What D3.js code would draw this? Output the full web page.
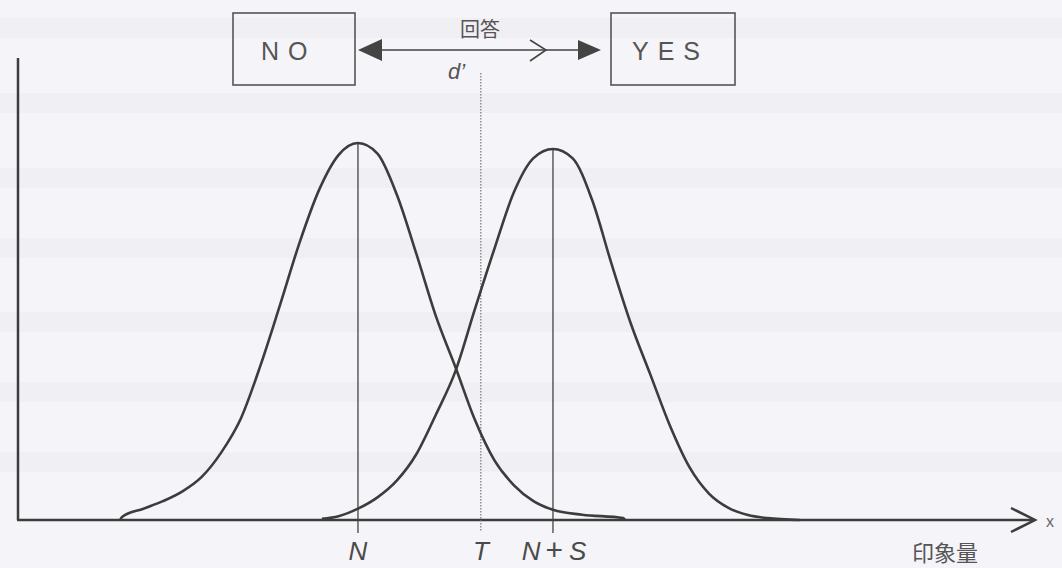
<!DOCTYPE html>
<html>
<head>
<meta charset="utf-8">
<script src="https://cdn.jsdelivr.net/npm/d3@7"></script>
<style>
  body { margin: 0; background: #f5f4f8; }
  svg { display: block; }
  .lbl { font-family: "Liberation Sans", Arial, sans-serif; fill: #4a4a4a; }
</style>
</head>
<body>
<div id="chart-area"></div>
<script>
// Noise distribution N (x in d' units, N = 0)
const noiseX = [-2.44, -2.42, -2.2, -2.0, -1.8, -1.6, -1.4, -1.2, -1.0, -0.8, -0.6, -0.4, -0.2, 0.0,
  0.2, 0.4, 0.6, 0.8, 1.0, 1.2, 1.4, 1.6, 1.8, 2.0, 2.3, 2.72, 2.74];
const noiseY = [0.000, 0.008, 0.030, 0.050, 0.076, 0.115, 0.180, 0.270, 0.410, 0.570, 0.735, 0.875, 0.968, 1.000,
  0.972, 0.862, 0.705, 0.540, 0.405, 0.265, 0.158, 0.092, 0.050, 0.027, 0.014, 0.005, 0.000];

// Signal + noise distribution N+S
const signalX = [-0.37, -0.2, 0.0, 0.2, 0.4, 0.6, 0.8, 1.0, 1.2, 1.4, 1.6, 1.8, 2.0,
  2.2, 2.4, 2.6, 2.8, 3.0, 3.2, 3.4, 3.6, 3.8, 4.0, 4.2, 4.53];
const signalY = [0.003, 0.010, 0.030, 0.060, 0.105, 0.175, 0.280, 0.395, 0.560, 0.720, 0.870, 0.960, 0.984,
  0.960, 0.850, 0.680, 0.520, 0.385, 0.250, 0.140, 0.070, 0.032, 0.013, 0.005, 0.000];

// x axis markers
const markerValues = [0, 1.26, 2];
const markerLabels = ["N", "T", "N+S"];

const width = 1062, height = 568;

const svg = d3.select("#chart-area")
  .append("svg")
    .attr("width", width)
    .attr("height", height);

// faint print-through bands of the scanned page
const bands = [18, 93, 168, 238, 312, 382, 452];
svg.selectAll(".band")
  .data(bands)
  .enter().append("rect")
    .attr("class", "band")
    .attr("x", 0)
    .attr("y", d => d)
    .attr("width", width)
    .attr("height", 20)
    .attr("fill", "#f0eff3");

// Scales
const xScale = d3.scaleLinear()
  .domain([-3.487, 6.944])
  .range([18, 1035]);

const yScale = d3.scaleLinear()
  .domain([0, 1])
  .range([520, 143]);

const ink = "#3c3c3c";

// Axes
svg.append("line")
  .attr("x1", xScale.range()[0]).attr("x2", xScale.range()[0])
  .attr("y1", 58).attr("y2", yScale(0))
  .attr("stroke", ink).attr("stroke-width", 2.5);

svg.append("line")
  .attr("x1", xScale.range()[0] - 1).attr("x2", xScale.range()[1])
  .attr("y1", yScale(0)).attr("y2", yScale(0))
  .attr("stroke", ink).attr("stroke-width", 2.5);

svg.append("path")
  .attr("d", `M${xScale.range()[1] - 24},${yScale(0) - 12} L${xScale.range()[1]},${yScale(0)} L${xScale.range()[1] - 24},${yScale(0) + 12}`)
  .attr("fill", "none").attr("stroke", ink).attr("stroke-width", 2.5);

svg.append("text")
  .attr("class", "lbl")
  .attr("x", 1046).attr("y", 527)
  .style("font-size", "16px").style("fill", "#666")
  .text("x");

svg.append("text")
  .attr("class", "lbl")
  .attr("x", 912).attr("y", 561)
  .style("font-family", "'Noto Sans CJK JP', sans-serif")
  .style("font-size", "22px").style("fill", "#555")
  .text("印象量");

// Mean lines for N and N+S
svg.append("line")
  .attr("x1", xScale(markerValues[0])).attr("x2", xScale(markerValues[0]))
  .attr("y1", yScale(d3.max(noiseY))).attr("y2", 533)
  .attr("stroke", "#444").attr("stroke-width", 1.3);

svg.append("line")
  .attr("x1", xScale(markerValues[2])).attr("x2", xScale(markerValues[2]))
  .attr("y1", yScale(d3.max(signalY))).attr("y2", 533)
  .attr("stroke", "#444").attr("stroke-width", 1.3);

// Criterion T
svg.append("line")
  .attr("x1", xScale(markerValues[1])).attr("x2", xScale(markerValues[1]))
  .attr("y1", 73).attr("y2", 532)
  .attr("stroke", "#777").attr("stroke-width", 1.2)
  .attr("stroke-dasharray", "1.5,1.5");

// Curves
const line = d3.line()
  .x(d => xScale(d[0]))
  .y(d => yScale(d[1]))
  .curve(d3.curveMonotoneX);

[d3.zip(noiseX, noiseY), d3.zip(signalX, signalY)].forEach(pts => {
  svg.append("path")
    .datum(pts)
    .attr("d", line)
    .attr("fill", "none")
    .attr("stroke", ink)
    .attr("stroke-width", 2.6)
    .attr("stroke-linejoin", "round");
});

// Marker labels
const italic = "'Liberation Sans', Arial, sans-serif";
svg.append("text").attr("class", "lbl")
  .attr("x", xScale(markerValues[0])).attr("y", 560)
  .attr("text-anchor", "middle")
  .style("font-family", italic).style("font-style", "italic").style("font-size", "26px")
  .text(markerLabels[0]);

svg.append("text").attr("class", "lbl")
  .attr("x", xScale(markerValues[1])).attr("y", 560)
  .attr("text-anchor", "middle")
  .style("font-family", italic).style("font-style", "italic").style("font-size", "26px")
  .text(markerLabels[1]);

const ns = svg.append("text").attr("class", "lbl")
  .attr("x", xScale(markerValues[2]) + 1).attr("y", 560)
  .attr("text-anchor", "middle")
  .style("font-family", italic).style("font-size", "26px");
ns.append("tspan").style("font-style", "italic").text(markerLabels[2][0]);
ns.append("tspan").attr("dx", 5).style("font-size", "30px").style("font-weight", 300).text(markerLabels[2][1]);
ns.append("tspan").attr("dx", 6).style("font-style", "italic").text(markerLabels[2][2]);

// Response boxes
const boxes = [
  { label: "NO", x: 233, w: 122, tx: 261 },
  { label: "YES", x: 611, w: 124, tx: 632 }
];
boxes.forEach(b => {
  svg.append("rect")
    .attr("x", b.x).attr("y", 13)
    .attr("width", b.w).attr("height", 72)
    .attr("fill", "none").attr("stroke", "#555").attr("stroke-width", 1.6);
  svg.append("text").attr("class", "lbl")
    .attr("x", b.tx).attr("y", 60)
    .style("font-size", "25px").style("letter-spacing", "9px").style("fill", "#555")
    .text(b.label);
});

// Response arrow
svg.append("line")
  .attr("x1", 370).attr("x2", 590).attr("y1", 50).attr("y2", 50)
  .attr("stroke", "#444").attr("stroke-width", 1.6);
svg.append("path")
  .attr("d", "M358,50 L382,39 L382,61 Z").attr("fill", "#444");
svg.append("path")
  .attr("d", "M601,50 L578,40 L578,60 Z").attr("fill", "#444");
svg.append("path")
  .attr("d", "M530,40 L546,50 L530,61")
  .attr("fill", "none").attr("stroke", "#444").attr("stroke-width", 1.6);

svg.append("text").attr("class", "lbl")
  .attr("x", 480).attr("y", 37)
  .attr("text-anchor", "middle")
  .style("font-family", "'Noto Sans CJK JP', sans-serif")
  .style("font-size", "20px").style("fill", "#555")
  .text("回答");

svg.append("text").attr("class", "lbl")
  .attr("x", 448).attr("y", 79)
  .style("font-style", "italic").style("font-size", "22px").style("fill", "#555")
  .text("d’");
</script>
</body>
</html>
